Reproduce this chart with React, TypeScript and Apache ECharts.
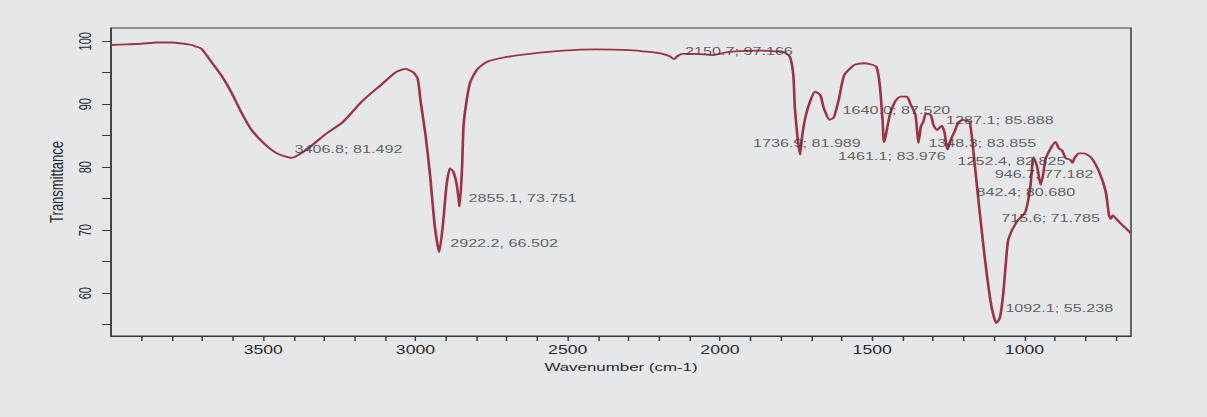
import React, { useEffect, useRef } from "react";
import * as echarts from "echarts";

// ---- data ----
const wavenumbers = [
  4000, 3950, 3900, 3850, 3800, 3760, 3735, 3724, 3703, 3670, 3638, 3606, 3573, 3541, 3498, 3455,
  3406.8, 3360, 3299, 3238, 3177, 3115, 3064, 3033, 3008, 2993, 2983, 2967, 2952, 2937, 2922.2,
  2910, 2898, 2887, 2876, 2864, 2855.1, 2847, 2842, 2831, 2820, 2798, 2766, 2700, 2624, 2515,
  2406, 2298, 2232, 2188, 2165, 2150.7, 2138, 2123, 2080, 2025, 1971, 1862, 1797, 1787, 1770,
  1759, 1754, 1745, 1736.9, 1731, 1720, 1703, 1687, 1670, 1659, 1640, 1626, 1609, 1592, 1560,
  1530, 1503, 1486, 1475, 1466, 1461.1, 1442, 1425, 1408, 1386, 1375, 1358, 1352, 1348.3, 1340,
  1332, 1324, 1308, 1298, 1287.1, 1272, 1263, 1252.4, 1240, 1230, 1219, 1202, 1180, 1163, 1147,
  1130, 1113, 1102, 1092.1, 1080, 1069, 1058, 1052, 1026, 997, 981, 970, 958, 946.7, 938, 930,
  898, 887, 877, 864, 850, 842.4, 835, 821, 805, 782, 755, 733, 722, 715.6, 710, 700, 678, 667, 650,
];
const transmittance = [
  99.4, 99.5, 99.6, 99.8, 99.8, 99.6, 99.4, 99.2, 98.8, 96.7, 94.6, 92.0, 88.8, 86.1, 83.8, 82.2,
  81.492, 82.7, 85.1, 87.2, 90.4, 93.0, 95.1, 95.6, 95.1, 94.1, 90.4, 85.1, 78.7, 70.8, 66.502,
  70.8, 77.1, 79.8, 79.3, 77.1, 73.751, 80.0, 86.7, 90.9, 93.5, 95.5, 96.7, 97.5, 98.0, 98.5,
  98.7, 98.6, 98.3, 98.0, 97.6, 97.166, 97.7, 98.0, 98.0, 97.8, 98.3, 98.5, 98.3, 98.2, 97.5,
  94.6, 89.4, 84.6, 81.989, 84.6, 87.8, 90.6, 92.0, 91.4, 89.4, 87.52, 87.9, 90.9, 94.6, 96.2,
  96.5, 96.3, 95.9, 93.0, 87.5, 83.976, 88.3, 90.4, 91.2, 91.2, 90.1, 88.3, 85.5, 83.855, 86.5,
  87.2, 88.5, 88.3, 86.6, 85.888, 86.6, 85.6, 82.825, 84.6, 85.6, 86.9, 87.5, 87.2, 80.3, 72.9,
  65.5, 59.2, 56.5, 55.238, 56.2, 60.2, 66.6, 68.7, 71.3, 72.9, 76.7, 81.6, 80.0, 77.182, 79.0, 81.4,
  84.0, 83.0, 82.7, 81.4, 81.2, 80.68, 81.5, 82.2, 82.2, 81.6, 79.3, 76.1, 72.3, 71.785, 72.4, 71.9, 70.8, 70.3, 69.5,
];

const peakWavenumbers = [3406.8, 2922.2, 2855.1, 2150.7, 1736.9, 1640.0, 1461.1, 1348.3, 1287.1, 1252.4, 1092.1, 946.7, 842.4, 715.6];
const peakValues = [81.492, 66.502, 73.751, 97.166, 81.989, 87.52, 83.976, 83.855, 85.888, 82.825, 55.238, 77.182, 80.68, 71.785];
const peakLabels = [
  "3406.8; 81.492", "2922.2, 66.502", "2855.1, 73.751", "2150.7; 97.166", "1736.9; 81.989",
  "1640.0; 87.520", "1461.1; 83.976", "1348.3; 83.855", "1287.1; 85.888", "1252.4, 82.825",
  "1092.1; 55.238", "946.7; 77.182", "842.4; 80.680", "715.6; 71.785",
];

const xTickValues = [3900, 3800, 3700, 3600, 3500, 3400, 3300, 3200, 3100, 3000, 2900, 2800, 2700, 2600, 2500, 2400, 2300, 2200, 2100, 2000, 1900, 1800, 1700, 1600, 1500, 1400, 1300, 1200, 1100, 1000, 900, 800, 700];
const xLabelValues = [3500, 3000, 2500, 2000, 1500, 1000];
const yTickValues = [55, 60, 65, 70, 75, 80, 85, 90, 95, 100];
const yLabelValues = [60, 70, 80, 90, 100];

// ---- styling (page pixels; the photo is horizontally stretched) ----
const PAGE_W = 1207;
const CHART_W = 821;
const S = PAGE_W / CHART_W;
// label offsets in page px: [dx, dy, align]
const labelOffsets: [number, number, string][] = [
  [3, -9, "left"], [11, -9, "left"], [9, -9, "left"], [11, -8, "left"], [-47, -12, "left"],
  [13, -10, "left"], [-46, 14, "left"], [10, 0, "left"], [9, -10, "left"], [10, 12, "left"],
  [9, -15, "left"], [-46, -11, "left"], [-96, 29, "left"], [-11, -1, "right"],
];

const AXIS = "#3a3a3a";
const FONT = "'Liberation Sans', Arial, sans-serif";

export default function App() {
  const ref = useRef<HTMLDivElement>(null);
  useEffect(() => {
    if (!ref.current) return;
    const chart = echarts.init(ref.current, null, { renderer: "svg" });
    const lineData = wavenumbers.map((w, i) => [w, transmittance[i]]);
    const peakData = peakWavenumbers.map((w, i) => ({
      value: [w, peakValues[i]],
      label: {
        show: true,
        formatter: peakLabels[i],
        position: "inside",
        align: labelOffsets[i][2],
        verticalAlign: "middle",
        offset: [labelOffsets[i][0] / S, labelOffsets[i][1]],
      },
    }));
    chart.setOption({
      animation: false,
      backgroundColor: "#e6e7e9",
      grid: {
        left: 111 / S,
        right: CHART_W - 1131 / S,
        top: 28,
        bottom: 81,
        show: true,
        borderColor: AXIS,
        borderWidth: 1,
        backgroundColor: "transparent",
      },
      xAxis: {
        type: "value",
        min: 650,
        max: 4000,
        inverse: true,
        name: "Wavenumber (cm-1)",
        nameLocation: "middle",
        nameGap: 25,
        nameTextStyle: { fontFamily: FONT, fontSize: 11.5, color: "#2a2a2a" },
        axisLine: { show: true, lineStyle: { color: AXIS, width: 1 } },
        axisTick: { show: true, length: 5, customValues: xTickValues, lineStyle: { color: AXIS, width: 1 } },
        axisLabel: {
          customValues: xLabelValues,
          formatter: (v: number) => String(v),
          margin: 8,
          fontFamily: FONT,
          fontSize: 12,
          color: "#2a2a2a",
        },
        splitLine: { show: false },
      },
      yAxis: {
        type: "value",
        min: 53.2,
        max: 102.1,
        name: "Transmittance",
        nameLocation: "middle",
        nameGap: 18,
        nameTextStyle: { fontFamily: FONT, fontSize: 13, color: "#2a2a2a" },
        axisLine: { show: true, lineStyle: { color: AXIS, width: 1 } },
        axisTick: { show: true, length: 6, customValues: yTickValues, lineStyle: { color: AXIS, width: 1 } },
        axisLabel: {
          customValues: yLabelValues,
          formatter: (v: number) => String(v),
          rotate: 90,
          margin: 12,
          fontFamily: FONT,
          fontSize: 11,
          color: "#2a2a2a",
        },
        splitLine: { show: false },
      },
      series: [
        {
          type: "line",
          data: lineData,
          symbol: "none",
          smooth: 0.2,
          lineStyle: { color: "#9f3245", width: 1.8 },
          z: 2,
        },
        {
          type: "scatter",
          data: peakData,
          symbol: "circle",
          symbolSize: 1,
          itemStyle: { color: "rgba(0,0,0,0)" },
          label: { fontFamily: FONT, fontSize: 11, color: "#3c3c3c" },
          z: 3,
        },
      ],
    });
    return () => chart.dispose();
  }, []);
  return (
    <div
      ref={ref}
      style={{
        position: "absolute",
        left: 0,
        top: 0,
        width: CHART_W + "px",
        height: "417px",
        transform: `scaleX(${S})`,
        transformOrigin: "0 0",
      }}
    />
  );
}
